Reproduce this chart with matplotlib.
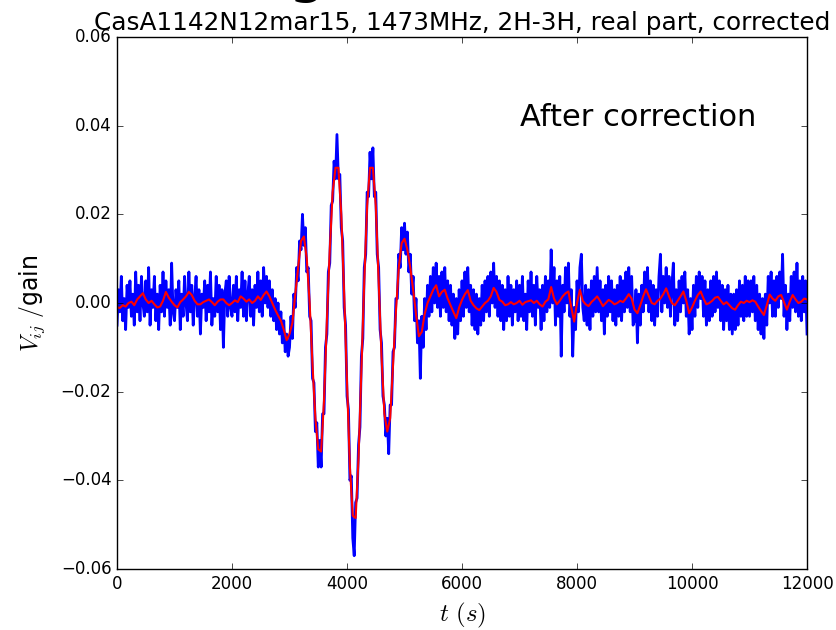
import numpy as np
import matplotlib
matplotlib.use('Agg')
import matplotlib.pyplot as plt

# visibility (real part) after correction, in units of 1e-3
# raw samples every 25 s
raw_vis = [
    -5, 3, -2, 6, -4, 1, -6, 4, -1, 5, -3, 2, -5, 7, -2, 4, -4, 6, 0, -3,
    5, -2, 8, -5, 3, -1, 6, -4, 2, -6, 4, -2, 7, -3, 5, -1, 3, -5, 9, -2,
    -4, 3, -1, 5, -6, 2, -3, 6, 0, -4, 7, -2, 4, -5, 1, 6, -3, 3, -7, 2,
    -1, 5, -4, 4, -2, 7, -5, 1, -3, 6, -2, 4, -6, 3, -10, 2, 5, -3, 6, -1,
    -3, 4, -2, 6, -4, 3, -1, 7, -3, 5, -4, 2, 6, -3, 3, -5, 4, -1, 7, -2,
    5, -3, 8, 0, 6, -1, 5, -3, 3, -4, 1, -6, 0, -7, -2, -9, -4, -11, -7, -12,
    -10, -3, -8, 2, -1, 8, 5, 14, 12, 20, 13, 17, 7, 8, -3, -4, -17, -18, -29, -27,
    -37, -31, -37, -25, -25, -10, -7, 7, 9, 22, 23, 32, 28, 38, 28, 29, 17, 14, -1, -5,
    -21, -24, -40, -39, -53, -57, -45, -44, -32, -28, -12, -8, 8, 11, 25, 24, 34, 28, 35, 24,
    25, 11, 8, -6, -9, -21, -23, -30, -26, -34, -23, -23, -11, -10, 1, 1, 11, 8, 17, 12,
    18, 11, 16, 7, 11, 2, 6, -4, 1, -9, -4, -17, -3, -10, 1, -6, 4, -3, 6, -2,
    8, 0, 9, -1, 6, -3, 7, -1, 8, -2, 5, -4, 4, -5, 2, -8, 1, -7, 3, -4,
    5, -3, 7, -1, 8, -2, 4, -5, 3, -6, 2, -7, 1, -5, 4, -4, 5, -2, 6, -3,
    7, 0, 9, -1, 6, -3, 5, -4, 4, -6, 3, -4, 6, -3, 4, -5, 3, -2, 5, -4,
    4, -3, 6, -4, 2, -6, 5, -2, 7, -3, 4, -5, 6, -1, 3, -6, 4, -4, 6, -2,
    5, -1, 12, 0, 8, -5, 5, -3, 6, -12, 4, -2, 8, 0, 9, -3, 3, -12, -1, -6,
    5, -2, 8, 11, -1, -4, 4, -5, 3, -6, 5, -3, 6, -2, 8, -2, 5, -4, 3, -7,
    4, -3, 6, -2, 5, -4, 3, -5, 4, -3, 6, -4, 5, -2, 7, -1, 8, -2, 6, -5,
    -4, 3, -9, 2, -5, 4, -2, 7, 0, 8, -2, 5, -4, 4, -5, 3, -3, 6, 11, -2,
    6, 0, 8, -1, 6, -3, 4, 9, -5, 3, -4, 5, -2, 6, 0, 7, -3, 3, -7, 1,
    -6, 4, -3, 6, -1, 7, 1, 6, -3, 5, -5, 3, -4, 5, -3, 6, -2, 7, -1, 5,
    -4, 4, -6, 3, -4, 4, -6, 2, -7, 2, -6, 3, -5, 5, -3, 4, -4, 6, -3, 5,
    -3, 5, -2, 6, -4, 4, -6, 2, -7, 1, -8, 2, -5, 6, 0, 7, -3, 5, -3, 6,
    -1, 7, 1, 11, -3, 4, -6, 2, -4, 6, -1, 7, -2, 9, -3, 5, -4, 6, -2, 5,
    -7,
]

# smoothed curve, every 50 s
smooth_vis = [
    -1.0, -1.1, -0.5, -0.8, 0.0, 0.3, -0.5, 0.8, 1.5, 2.2,
    0.8, 0.0, 0.5, -0.3, -1.0, -0.8, 0.5, 2.5, 1.2, 0.3,
    -0.5, -1.0, 0.2, 0.8, 1.5, 2.5, 1.8, 0.5, -0.3, -0.3,
    0.2, 0.5, 0.8, 0.2, -0.5, 0.3, 0.8, 0.8, 0.0, -0.5,
    0.0, 0.6, 0.2, 1.5, 1.0, 0.3, 0.8, 0.0, 0.5, 1.5,
    0.7, 1.8, 2.6, 1.5, 0.0, -1.5, -2.8, -4.0, -6.0, -8.4,
    -7.0, -4.5, 2.0, 8.0, 14.0, 15.0, 10.0, 0.0, -14.0, -26.0,
    -33.0, -33.5, -22.0, -4.0, 12.0, 25.0, 30.5, 30.5, 20.0, 2.0,
    -18.0, -37.0, -48.0, -48.5, -35.0, -15.0, 5.0, 22.0, 30.5, 30.5,
    22.0, 5.0, -12.0, -25.0, -29.0, -26.0, -14.0, -2.0, 8.0, 13.5,
    14.5, 12.0, 8.0, 3.0, -2.5, -7.5, -6.5, -2.5, 0.0, 1.5,
    3.0, 4.0, 1.5, 2.5, 3.0, 1.0, -0.5, -2.0, -3.4, -1.0,
    0.7, 2.0, 2.9, 0.5, -0.5, -1.2, -1.6, -0.8, 0.0, 0.5,
    1.5, 3.4, 2.5, 0.7, 0.3, -0.5, -0.3, 0.2, -0.3, 0.0,
    0.5, -0.4, 0.2, 0.4, 0.6, 0.0, 0.5, -0.3, -0.8, 0.3,
    0.8, 3.6, 1.0, -0.3, 0.5, 1.5, 2.2, 2.6, -1.0, -4.2,
    0.0, 3.0, 0.5, -0.3, -0.7, 0.2, 0.8, 1.5, 0.5, -0.7,
    0.0, 0.7, 0.3, -0.3, 0.0, 0.5, 0.2, 1.0, 2.0, 1.0,
    -1.5, -2.3, -0.5, 1.5, 3.1, 1.5, 0.0, -0.3, 0.5, 1.0,
    2.0, 3.3, 1.5, 0.0, -0.5, 0.5, 1.5, 2.6, 0.5, -2.3,
    -1.0, 0.5, 1.8, 2.6, 1.0, -0.3, 0.0, 0.5, 1.2, 1.4,
    0.5, -0.3, 0.2, -0.5, -1.2, -1.5, -0.5, 0.3, 0.0, 0.5,
    0.2, 0.6, 0.3, -0.8, -1.8, -2.7, -0.5, 1.9, 1.0, 0.5,
    1.5, 1.8, 0.2, -1.5, 0.3, 1.8, 0.8, 0.0, 0.3, 1.0,
    0.8,
]

t_end = 12000.0  # s

if __name__ == '__main__':
    plt.style.use('classic')
    plt.rcParams['mathtext.fontset'] = 'cm'

    raw = np.array(raw_vis) * 1e-3
    smooth = np.array(smooth_vis) * 1e-3
    t_raw = np.linspace(0, t_end, len(raw))
    t_smooth = np.linspace(0, t_end, len(smooth))

    fig = plt.figure(figsize=(8.37, 6.3), dpi=100, facecolor='white')
    ax = fig.add_axes([0.1398, 0.0968, 0.8244, 0.8445])
    ax.plot(t_raw, raw, color='b', lw=2.0)
    ax.plot(t_smooth, smooth, color='r', lw=1.5)

    ax.set_xlim(0, 12000)
    ax.set_ylim(-0.06, 0.06)
    ax.set_xticks(np.arange(0, 12001, 2000))
    ax.set_yticks(np.arange(-0.06, 0.061, 0.02))
    ax.tick_params(labelsize=12)

    ax.set_title('CasA1142N12mar15, 1473MHz, 2H-3H, real part, corrected', fontsize=17.8)
    ax.set_xlabel(r'$t\ (s)$', fontsize=18, labelpad=6)
    ax.set_ylabel(r'$V_{ij}\ /$gain', fontsize=17, labelpad=10)
    ax.text(7000, 0.04, 'After correction', fontsize=22)

    # bottom of a big heading that falls off the top of the figure
    fig.text(307 / 837, 1.016, 'g', fontsize=44, ha='center', va='baseline')

    fig.savefig('out.png', dpi=100, facecolor='white')
